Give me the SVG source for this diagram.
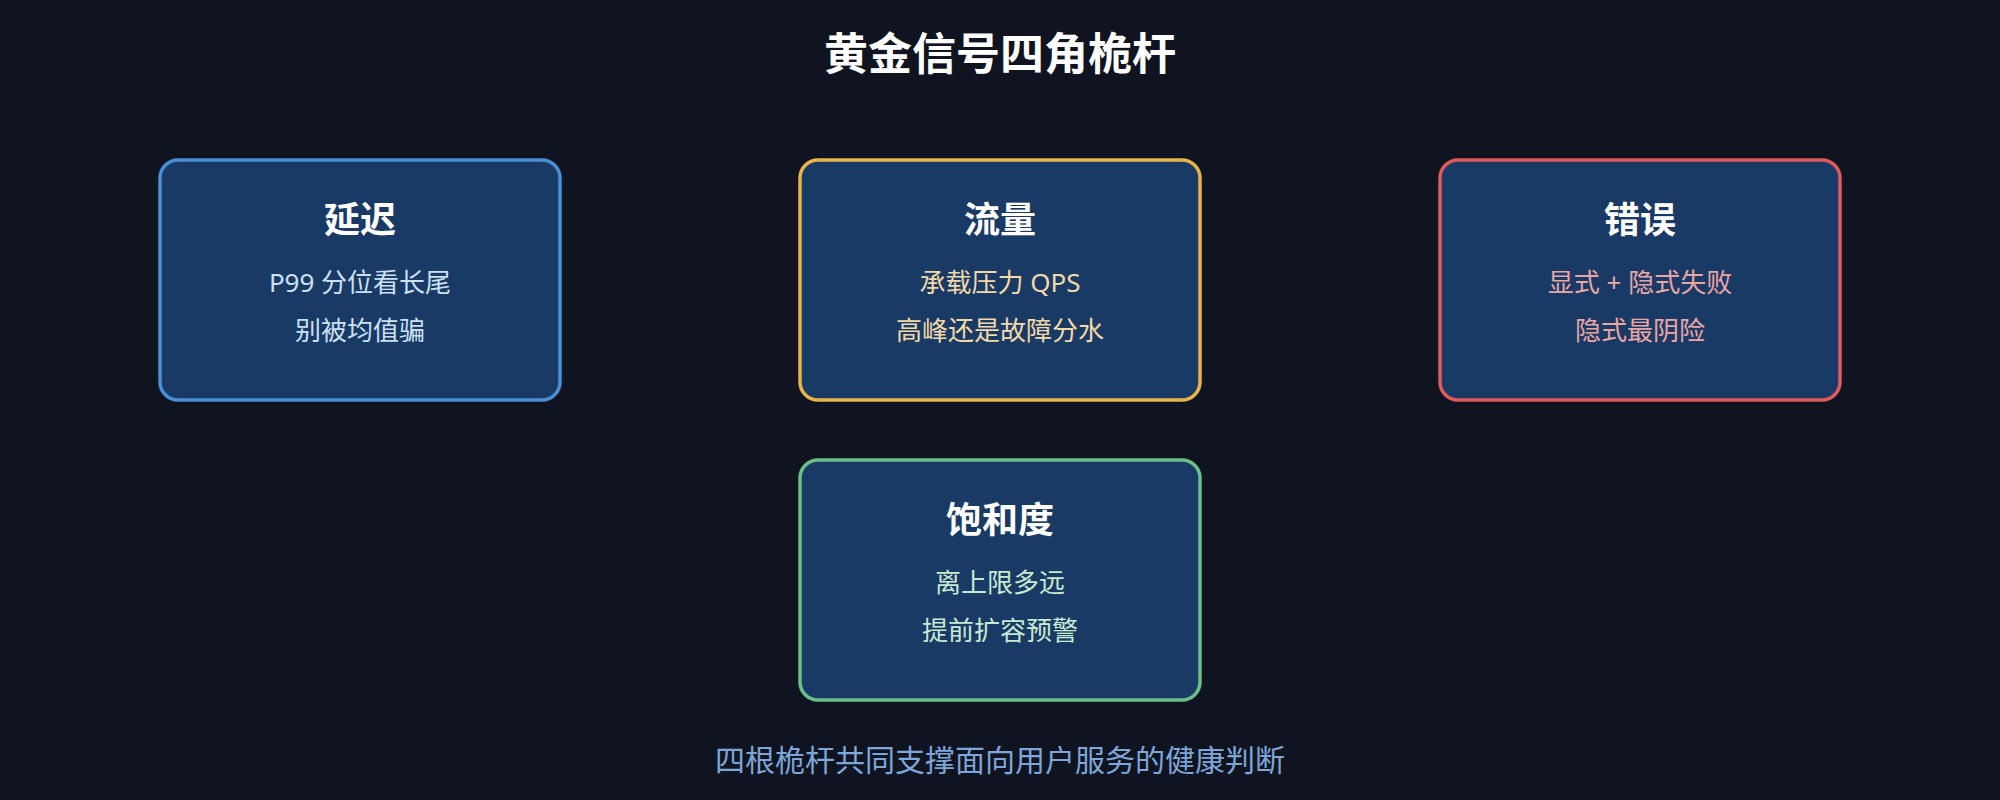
<svg xmlns="http://www.w3.org/2000/svg" width="2000" height="800" viewBox="0 0 2000 800">
  <style>
    text { font-family: "Noto Sans", "Noto Sans CJK SC", "Liberation Sans", sans-serif; text-anchor: middle; }
    .title { font-size: 44px; font-weight: bold; fill: #ffffff; }
    .box { fill: #1a3a66; stroke-width: 3.5; }
    .head { font-size: 36px; font-weight: bold; fill: #ffffff; }
    .line { font-size: 26px; }
    .foot { font-size: 30px; fill: #7ea6d8; }
  </style>
  <rect x="0" y="0" width="2000" height="800" fill="#0f1420"/>
  <text class="title" x="1000" y="70">黄金信号四角桅杆</text>
  <g id="connectors"></g>
  <g id="latency">
    <rect class="box" x="160" y="160" width="400" height="240" rx="18" stroke="#4a8fd6"/>
    <text class="head" x="360" y="233">延迟</text>
    <text class="line" x="360" y="292" fill="#cce0f5">P99 分位看长尾</text>
    <text class="line" x="360" y="340" fill="#cce0f5">别被均值骗</text>
  </g>
  <g id="traffic">
    <rect class="box" x="800" y="160" width="400" height="240" rx="18" stroke="#e8b447"/>
    <text class="head" x="1000" y="233">流量</text>
    <text class="line" x="1000" y="292" fill="#f2d9a6">承载压力 QPS</text>
    <text class="line" x="1000" y="340" fill="#f2d9a6">高峰还是故障分水</text>
  </g>
  <g id="errors">
    <rect class="box" x="1440" y="160" width="400" height="240" rx="18" stroke="#e05a5a"/>
    <text class="head" x="1640" y="233">错误</text>
    <text class="line" x="1640" y="292" fill="#eaa5a5">显式 + 隐式失败</text>
    <text class="line" x="1640" y="340" fill="#eaa5a5">隐式最阴险</text>
  </g>
  <g id="saturation">
    <rect class="box" x="800" y="460" width="400" height="240" rx="18" stroke="#6bbf88"/>
    <text class="head" x="1000" y="533">饱和度</text>
    <text class="line" x="1000" y="592" fill="#c8ead2">离上限多远</text>
    <text class="line" x="1000" y="640" fill="#c8ead2">提前扩容预警</text>
  </g>
  <text class="foot" x="1000" y="771">四根桅杆共同支撑面向用户服务的健康判断</text>
</svg>
